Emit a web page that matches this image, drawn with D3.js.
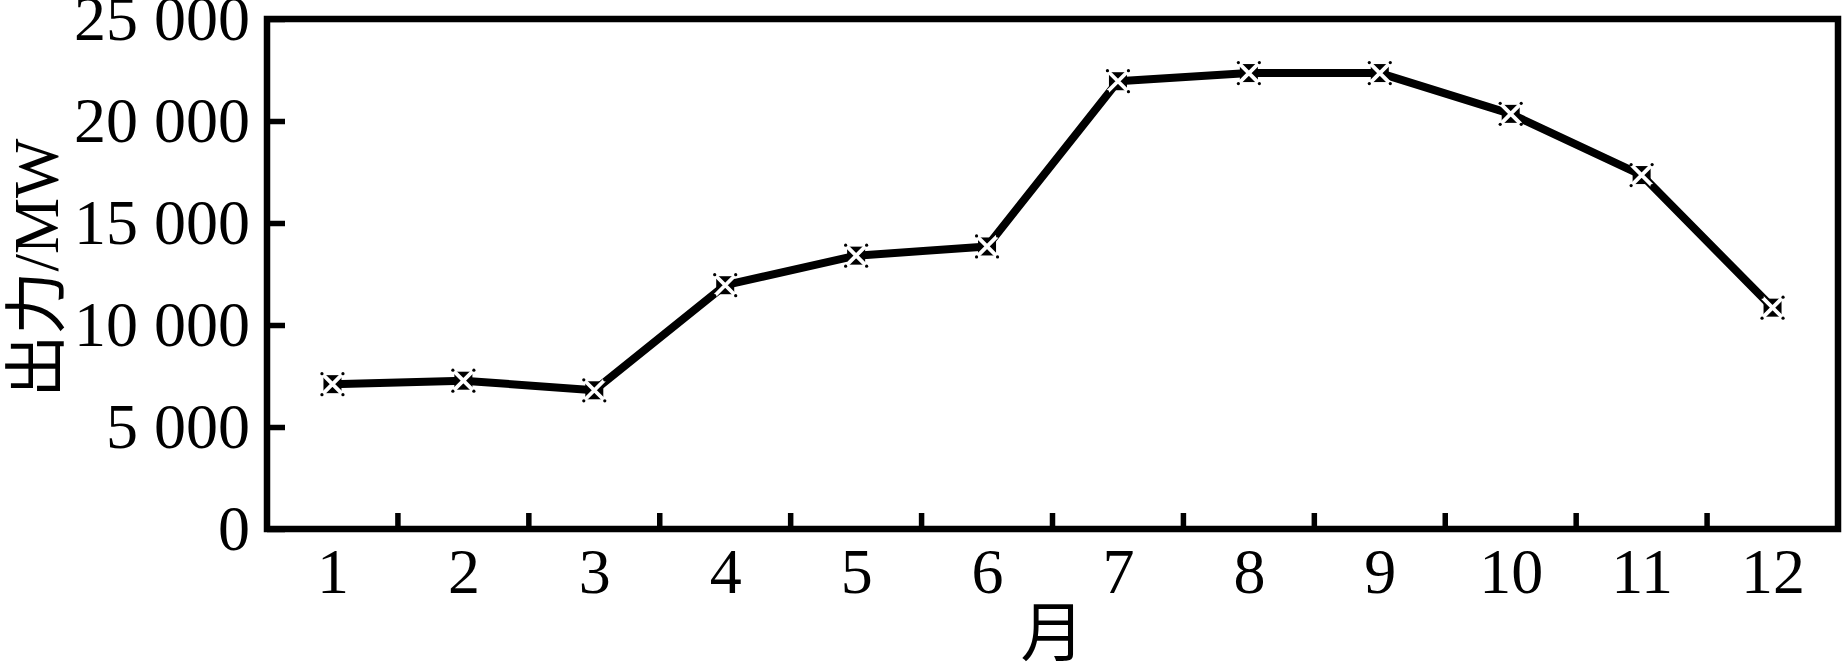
<!DOCTYPE html>
<html>
<head>
<meta charset="utf-8">
<script src="https://cdn.jsdelivr.net/npm/d3@7"></script>
<style>
  body { margin: 0; background: #fff; }
  text { font-family: "Liberation Serif", "Noto Sans CJK SC", serif; fill: #000; }
</style>
</head>
<body>
<div class="chart"></div>
<script>
var months = [1, 2, 3, 4, 5, 6, 7, 8, 9, 10, 11, 12];
var outputMW = [7100, 7270, 6800, 11950, 13400, 13850, 21950, 22350, 22350, 20350, 17350, 10850];
var yTicks = [0, 5000, 10000, 15000, 20000, 25000];
var yTickLabels = ["0", "5 000", "10 000", "15 000", "20 000", "25 000"];
var xTitle = "月";
var yTitle = "出力/MW";

var svgWidth = 1842;
var svgHeight = 665;

var margin = { top: 19, right: 4, bottom: 136, left: 267 };
var width = svgWidth - margin.left - margin.right;
var height = svgHeight - margin.top - margin.bottom;

var svg = d3.select(".chart")
  .append("svg")
  .attr("width", svgWidth)
  .attr("height", svgHeight);

var chartGroup = svg.append("g")
  .attr("transform", `translate(${margin.left}, ${margin.top})`);

var data = months.map((m, i) => ({ month: m, value: outputMW[i] }));

// months sit in the middle of each slot, ticks sit between them
var xScale = d3.scaleLinear()
  .domain([0.5, 12.5])
  .range([0, width]);

var yScale = d3.scaleLinear()
  .domain([0, 25000])
  .range([height, 0]);

// y axis, ticks pointing inwards
var leftAxis = d3.axisLeft(yScale)
  .tickValues(yTicks)
  .tickSize(-18)
  .tickPadding(17)
  .tickFormat((d, i) => yTickLabels[i]);

var yAxisG = chartGroup.append("g").call(leftAxis);
yAxisG.select(".domain").remove();
yAxisG.selectAll(".tick line").attr("stroke", "#000").attr("stroke-width", 5.5);
yAxisG.selectAll(".tick text")
  .attr("font-size", 64)
  .attr("font-family", "Liberation Serif");

// x axis labels
var bottomAxis = d3.axisBottom(xScale)
  .tickValues(months)
  .tickSize(0)
  .tickPadding(19)
  .tickFormat(d3.format("d"));

var xAxisG = chartGroup.append("g")
  .attr("transform", `translate(0, ${height})`)
  .call(bottomAxis);
xAxisG.select(".domain").remove();
xAxisG.selectAll(".tick text")
  .attr("font-size", 64)
  .attr("font-family", "Liberation Serif");

// x ticks between months
chartGroup.selectAll(".xsep")
  .data(months.slice(0, -1))
  .enter()
  .append("line")
  .attr("class", "xsep")
  .attr("x1", d => xScale(d + 0.5))
  .attr("x2", d => xScale(d + 0.5))
  .attr("y1", height)
  .attr("y2", height - 16)
  .attr("stroke", "#000")
  .attr("stroke-width", 5.5);

// frame
chartGroup.append("rect")
  .attr("x", 0)
  .attr("y", 0)
  .attr("width", width)
  .attr("height", height)
  .attr("fill", "none")
  .attr("stroke", "#000")
  .attr("stroke-width", 6.5);

// the line
var line = d3.line()
  .x(d => xScale(d.month))
  .y(d => yScale(d.value));

chartGroup.append("path")
  .datum(data)
  .attr("d", line)
  .attr("fill", "none")
  .attr("stroke", "#000")
  .attr("stroke-width", 8)
  .attr("stroke-linejoin", "round");

// square markers with a white cross
var markers = chartGroup.selectAll(".marker")
  .data(data)
  .enter()
  .append("g")
  .attr("class", "marker")
  .attr("transform", d => `translate(${xScale(d.month)}, ${yScale(d.value)})`);

markers.append("rect")
  .attr("x", -9).attr("y", -9)
  .attr("width", 18).attr("height", 18)
  .attr("fill", "#000");

markers.append("path")
  .attr("d", "M-10,-10L10,10M10,-10L-10,10")
  .attr("stroke", "#fff")
  .attr("stroke-width", 3.8);

[[-10.5, -10.5], [10.5, -10.5], [-10.5, 10.5], [10.5, 10.5]].forEach(function(p) {
  markers.append("circle")
    .attr("cx", p[0]).attr("cy", p[1])
    .attr("r", 1.6)
    .attr("fill", "#000");
});

// axis titles
svg.append("text")
  .attr("x", margin.left + width / 2)
  .attr("y", 655)
  .attr("text-anchor", "middle")
  .attr("font-size", 64)
  .text(xTitle);

svg.append("text")
  .attr("transform", "translate(58, 268) rotate(-90)")
  .attr("text-anchor", "middle")
  .attr("font-size", 63)
  .text(yTitle);
</script>
</body>
</html>
